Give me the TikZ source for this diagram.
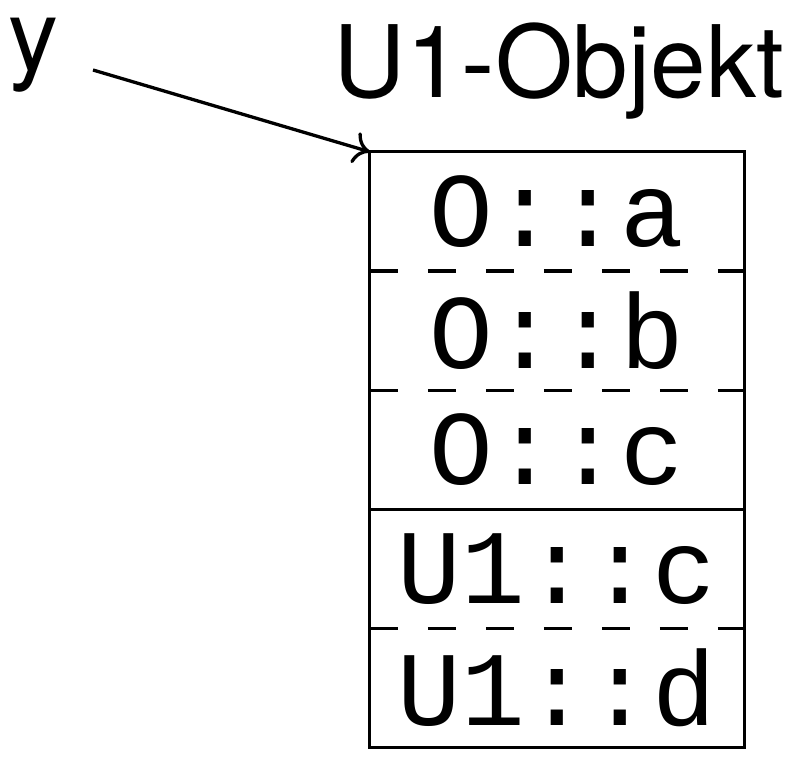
\documentclass[tikz,border=0pt]{standalone}
\usepackage{fontspec}
\newfontfamily\labelsans{TeX Gyre Heros}
\newfontfamily\cellmono{Liberation Mono}
\usetikzlibrary{arrows.meta}
\tikzset{
  lbl/.style={inner sep=0pt, anchor=base, font=\fontsize{100}{110}\labelsans},
  cell/.style={inner sep=0pt, minimum width=374pt, minimum height=118.8pt, font=\fontsize{106}{110}\cellmono},
  frame/.style={line width=3.3pt},
  sepdash/.style={line width=3.3pt, dash pattern=on 28pt off 30pt},
  ptr/.style={line width=3.3pt, -{To[length=16pt,width=32pt]}}
}
\begin{document}
\begin{tikzpicture}[x=1pt,y=-1pt]
\useasboundingbox (0,0) rectangle (799,772);
\node[lbl] (yl) at (34,70) {y};
\node[lbl] (title) at (559,97) {U1-Objekt};
\node[cell] (r1) at (557,211.4) {O::a};
\node[cell,anchor=north] (r2) at (r1.south) {O::b};
\node[cell,anchor=north] (r3) at (r2.south) {O::c};
\node[cell,anchor=north] (r4) at (r3.south) {U1::c};
\node[cell,anchor=north] (r5) at (r4.south) {U1::d};
\draw[frame] (r1.north west) rectangle (r5.south east);
\draw[sepdash] (r1.south west) -- (r1.south east);
\draw[sepdash] (r2.south west) -- (r2.south east);
\draw[frame] (r3.south west) -- (r3.south east);
\draw[sepdash] (r4.south west) -- (r4.south east);
\coordinate (ystart) at (93,70);
\draw[ptr] (ystart) -- (r1.north west);
\end{tikzpicture}
\end{document}
